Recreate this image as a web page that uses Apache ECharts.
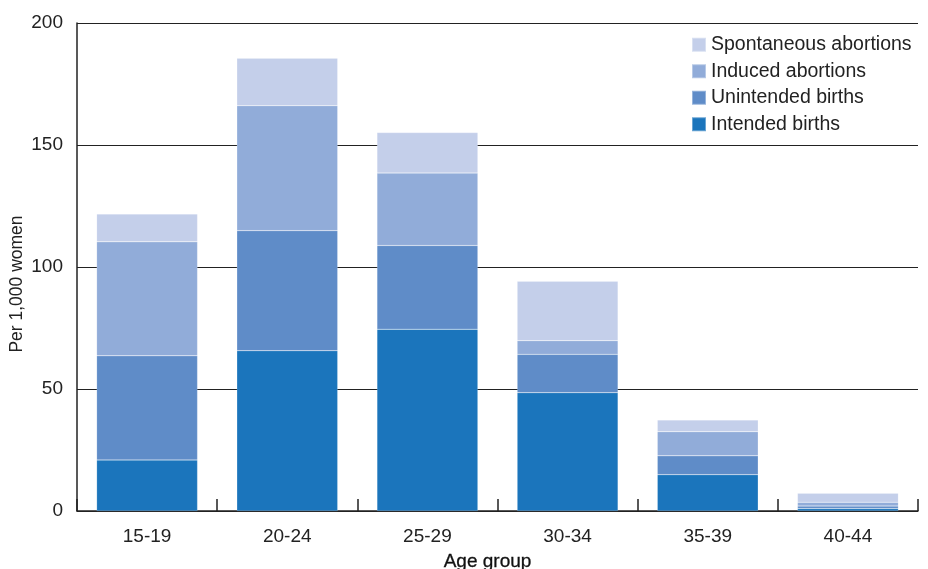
<!DOCTYPE html>
<html>
<head>
<meta charset="utf-8">
<script src="https://cdn.jsdelivr.net/npm/echarts@6/dist/echarts.min.js"></script>
<style>
html,body{margin:0;padding:0;background:#fff;}
#chart{width:928px;height:569px;}
</style>
</head>
<body>
<div id="chart"></div>
<script>
var categories = ['15-19', '20-24', '25-29', '30-34', '35-39', '40-44'];
var intendedBirths = [20.9, 65.7, 74.5, 48.5, 14.9, 1.0];
var unintendedBirths = [42.7, 49.2, 34.3, 15.7, 7.7, 1.0];
var inducedAbortions = [46.7, 51.2, 29.7, 5.6, 9.9, 1.6];
var spontaneousAbortions = [11.4, 19.5, 16.6, 24.4, 4.8, 3.7];
var yTicks = [0, 50, 100, 150, 200];

var FONT = '"Liberation Sans", Arial, Helvetica, sans-serif';
var chart = echarts.init(document.getElementById('chart'), null, {renderer: 'canvas'});

function bar(name, data, color) {
  return {
    name: name,
    type: 'bar',
    stack: 'total',
    data: data,
    barCategoryGap: '28%',
    itemStyle: {color: color, borderColor: 'rgba(255,255,255,0.35)', borderWidth: 0.5},
    emphasis: {disabled: true}
  };
}

chart.setOption({
  animation: false,
  textStyle: {fontFamily: FONT},
  grid: {left: 77, right: 10, top: 23, bottom: 58, containLabel: false, outerBoundsMode: 'none'},
  legend: {
    orient: 'vertical',
    left: 686,
    top: 29,
    itemWidth: 14,
    itemHeight: 14,
    itemGap: 5,
    icon: 'rect',
    textStyle: {fontFamily: FONT, fontSize: 19.5, color: '#222', lineHeight: 21.5},
    data: ['Spontaneous abortions', 'Induced abortions', 'Unintended births', 'Intended births']
  },
  xAxis: {
    type: 'category',
    data: categories,
    name: 'Age group',
    nameLocation: 'middle',
    nameGap: 41,
    nameMoveOverlap: false,
    nameTextStyle: {fontFamily: FONT, fontSize: 19, color: '#111', fontWeight: 'normal', padding: [0, 20, 0, 0], textBorderColor: '#111', textBorderWidth: 0.3},
    axisLine: {lineStyle: {color: '#222', width: 1.5}},
    axisTick: {show: true, inside: true, length: 12, lineStyle: {color: '#222', width: 1.5}},
    axisLabel: {fontFamily: FONT, fontSize: 19, color: '#222', margin: 16}
  },
  yAxis: {
    type: 'value',
    min: yTicks[0],
    max: yTicks[yTicks.length - 1],
    interval: 50,
    name: 'Per 1,000 women',
    nameLocation: 'middle',
    nameGap: 51,
    nameMoveOverlap: false,
    nameTextStyle: {fontFamily: FONT, fontSize: 17.5, color: '#222', padding: [0, 34, 0, 0]},
    axisLine: {show: true, lineStyle: {color: '#222', width: 1.5}},
    axisTick: {show: false},
    axisLabel: {fontFamily: FONT, fontSize: 19, color: '#222', margin: 14},
    splitLine: {show: true, lineStyle: {color: '#222', width: 1.2}}
  },
  series: [
    bar('Intended births', intendedBirths, '#1b75bc'),
    bar('Unintended births', unintendedBirths, '#5f8cc8'),
    bar('Induced abortions', inducedAbortions, '#91acd9'),
    bar('Spontaneous abortions', spontaneousAbortions, '#c4cfea')
  ]
});
</script>
</body>
</html>
